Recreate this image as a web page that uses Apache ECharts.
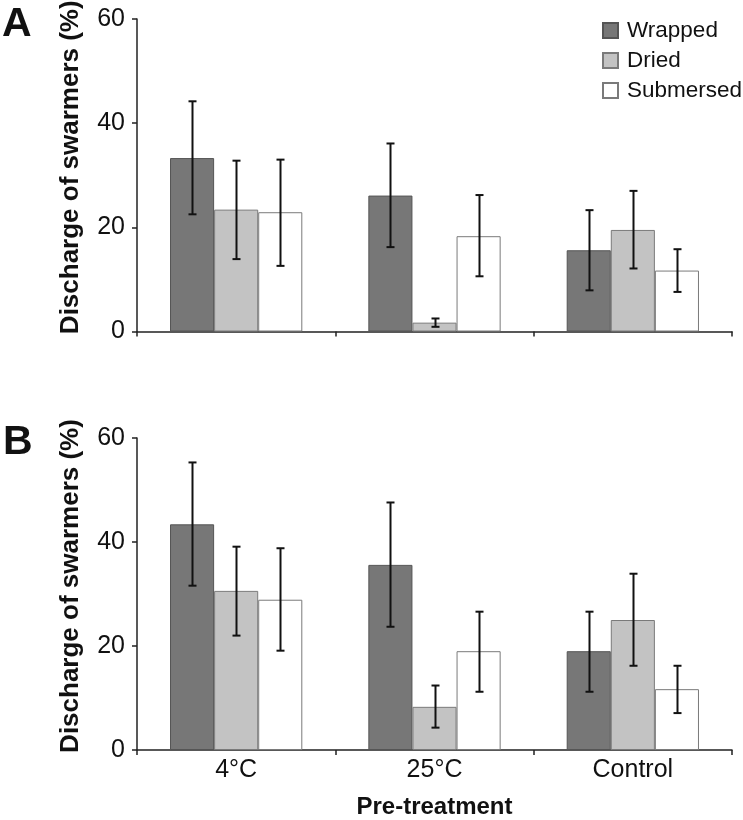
<!DOCTYPE html>
<html>
<head>
<meta charset="utf-8">
<script src="https://cdn.jsdelivr.net/npm/echarts@6/dist/echarts.min.js"></script>
<style>html,body{margin:0;padding:0;background:#fff;}#c{width:743px;height:820px;}</style>
</head>
<body>
<div id="c"></div>
<script>
const categories = ['4°C', '25°C', 'Control'];
const seriesNames = ['Wrapped', 'Dried', 'Submersed'];
const yTicks = [0, 20, 40, 60];

// Panel A
const wrappedA = [33.3, 26.1, 15.6];
const driedA = [23.4, 1.7, 19.5];
const submersedA = [22.9, 18.3, 11.7];
const wrappedALow = [22.5, 16.2, 7.9];
const wrappedAHigh = [44.2, 36.1, 23.3];
const driedALow = [13.9, 0.9, 12.1];
const driedAHigh = [32.8, 2.5, 27.0];
const submersedALow = [12.6, 10.6, 7.6];
const submersedAHigh = [33.0, 26.2, 15.8];

// Panel B
const wrappedB = [43.4, 35.6, 19.0];
const driedB = [30.6, 8.3, 25.0];
const submersedB = [28.9, 19.0, 11.7];
const wrappedBLow = [31.6, 23.7, 11.2];
const wrappedBHigh = [55.3, 47.6, 26.6];
const driedBLow = [22.0, 4.3, 16.2];
const driedBHigh = [39.1, 12.4, 33.9];
const submersedBLow = [19.1, 11.2, 7.1];
const submersedBHigh = [38.8, 26.6, 16.2];

const fills = ['#777777', '#c3c3c3', '#ffffff'];
const borders = ['#555555', '#7a7a7a', '#7a7a7a'];
const catGap = 1/3;

function barSeries(name, idx, data, panel) {
  return {
    type: 'bar', name: name, data: data,
    xAxisIndex: panel, yAxisIndex: panel,
    barGap: '0%', barCategoryGap: '33.3%',
    itemStyle: { color: fills[idx], borderColor: borders[idx], borderWidth: 1 },
    emphasis: { disabled: true },
    z: 2
  };
}

function errSeries(name, idx, low, high, panel) {
  const data = low.map((l, i) => [i, l, high[i]]);
  return {
    type: 'custom', name: name, xAxisIndex: panel, yAxisIndex: panel,
    data: data, z: 5, silent: true,
    renderItem: function (params, api) {
      const band = api.size([1, 0])[0];
      const bw = band * (1 - catGap) / 3;
      const off = (idx - 1) * bw;
      const pLow = api.coord([api.value(0), api.value(1)]);
      const pHigh = api.coord([api.value(0), api.value(2)]);
      const x = Math.round(pLow[0] + off) + 0.5;
      const cap = 4;
      const st = { stroke: '#111', lineWidth: 2 };
      return {
        type: 'group',
        children: [
          { type: 'line', shape: { x1: x, y1: pLow[1], x2: x, y2: pHigh[1] }, style: st },
          { type: 'line', shape: { x1: x - cap, y1: pLow[1], x2: x + cap, y2: pLow[1] }, style: st },
          { type: 'line', shape: { x1: x - cap, y1: pHigh[1], x2: x + cap, y2: pHigh[1] }, style: st }
        ]
      };
    }
  };
}

const fontFam = '"Liberation Sans", Arial, sans-serif';
const axisLineStyle = { color: '#222', width: 1.5 };

function xAxisDef(panel, showLabels) {
  return {
    type: 'category', gridIndex: panel, data: categories,
    axisLine: { lineStyle: axisLineStyle },
    axisTick: { show: true, length: 5, lineStyle: axisLineStyle, alignWithLabel: false },
    axisLabel: { show: showLabels, fontSize: 25, color: '#111', fontFamily: fontFam, margin: 8 },
    name: showLabels ? 'Pre-treatment' : '',
    nameLocation: 'middle', nameGap: 45,
    nameTextStyle: { fontSize: 24, fontWeight: 'bold', color: '#111', fontFamily: fontFam }
  };
}
function yAxisDef(panel) {
  return {
    type: 'value', gridIndex: panel, min: yTicks[0], max: yTicks[yTicks.length - 1], interval: 20,
    axisLine: { show: true, lineStyle: axisLineStyle },
    axisTick: { show: true, length: 5, lineStyle: axisLineStyle },
    splitLine: { show: false },
    axisLabel: { fontSize: 25, color: '#111', fontFamily: fontFam, margin: 12 },
    name: 'Discharge of swarmers (%)',
    nameLocation: 'middle', nameGap: 53, nameRotate: 90,
    nameTextStyle: { fontSize: 26, fontWeight: 'bold', color: '#111', fontFamily: fontFam, padding: [0, 0, 0, 16] }
  };
}

const chart = echarts.init(document.getElementById('c'), null, { renderer: 'canvas' });
chart.setOption({
  animation: false,
  backgroundColor: '#fff',
  textStyle: { fontFamily: fontFam },
  grid: [
    { left: 137, right: 11, top: 19, bottom: 820 - 331.5, outerBoundsMode: 'none', containLabel: false },
    { left: 137, right: 11, top: 438, bottom: 70, outerBoundsMode: 'none', containLabel: false }
  ],
  xAxis: [xAxisDef(0, false), xAxisDef(1, true)],
  yAxis: [yAxisDef(0), yAxisDef(1)],
  legend: {
    data: seriesNames, orient: 'vertical', left: 597, top: 14,
    itemWidth: 15, itemHeight: 15, itemGap: 7,
    textStyle: { fontSize: 22.5, color: '#111', fontFamily: fontFam, padding: [0, 0, 0, 4] },
    icon: 'rect'
  },
  graphic: [
    { type: 'text', left: 2, top: 4, style: { text: 'A', font: 'bold 41px "Liberation Sans", Arial, sans-serif', fill: '#111' } },
    { type: 'text', left: 3, top: 422, style: { text: 'B', font: 'bold 41px "Liberation Sans", Arial, sans-serif', fill: '#111' } }
  ],
  series: [
    barSeries('Wrapped', 0, wrappedA, 0),
    barSeries('Dried', 1, driedA, 0),
    barSeries('Submersed', 2, submersedA, 0),
    barSeries('Wrapped', 0, wrappedB, 1),
    barSeries('Dried', 1, driedB, 1),
    barSeries('Submersed', 2, submersedB, 1),
    errSeries('Wrapped', 0, wrappedALow, wrappedAHigh, 0),
    errSeries('Dried', 1, driedALow, driedAHigh, 0),
    errSeries('Submersed', 2, submersedALow, submersedAHigh, 0),
    errSeries('Wrapped', 0, wrappedBLow, wrappedBHigh, 1),
    errSeries('Dried', 1, driedBLow, driedBHigh, 1),
    errSeries('Submersed', 2, submersedBLow, submersedBHigh, 1)
  ]
});
</script>
</body>
</html>
